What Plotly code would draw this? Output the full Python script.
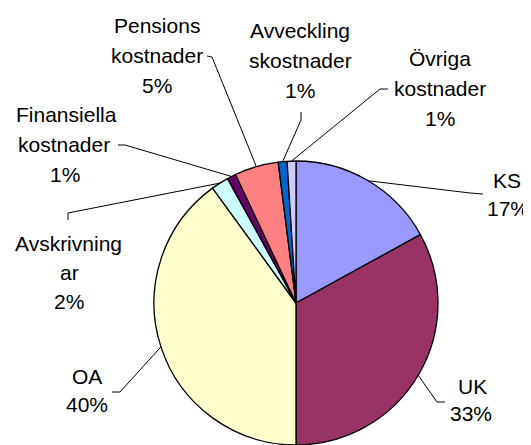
import math
import plotly.graph_objects as go

# ---- data ----
labels = ["KS", "UK", "OA", "Avskrivningar", "Finansiella kostnader",
          "Pensions kostnader", "Avvecklingskostnader", "Övriga kostnader"]
values = [17, 33, 40, 2, 1, 5, 1, 1]
display_lines = [["KS"], ["UK"], ["OA"], ["Avskrivning", "ar"],
                 ["Finansiella", "kostnader"], ["Pensions", "kostnader"],
                 ["Avveckling", "skostnader"], ["Övriga", "kostnader"]]
colors = ["#9999FF", "#993366", "#FFFFCC", "#CCFFFF", "#660066",
          "#FF8080", "#0066CC", "#CCCCFF"]

# ---- layout config (page pixels) ----
PAGE_W, PAGE_H = 531, 445
OFF = 8  # default body margin of the page
W, H = PAGE_W - OFF, PAGE_H - OFF
CX, CY, R = 296, 303, 142
# text line centres per label
text_pos = [
    [(507, 181), (508, 208)],
    [(472, 386), (471, 413)],
    [(87, 376), (87, 404)],
    [(68, 243), (69, 272), (69, 301)],
    [(66, 114), (64, 144), (65, 174)],
    [(157, 26), (157, 56), (157, 86)],
    [(300, 31), (300, 61), (300, 91)],
    [(440, 59), (440, 89), (440, 119)],
]
# leader line: [end near text, elbow]
leader = [
    [(483, 194), (470, 193)],
    [(445, 402), (437, 402)],
    [(112, 392), (120, 392)],
    [(68, 220), (68, 213)],
    [(118, 145), (125, 145)],
    [(207, 56), (212, 57)],
    [(301, 112), (301, 120)],
    [(388, 89), (380, 89)],
]

def px(x):
    return (x - OFF) / W

def py(y):
    return 1 - (y - OFF) / H

total = sum(values)
fig = go.Figure(go.Pie(
    labels=labels, values=values, sort=False, direction="clockwise",
    rotation=0, textinfo="none", hoverinfo="label+percent",
    marker=dict(colors=colors, line=dict(color="black", width=1.3)),
    domain=dict(x=[px(CX - R), px(CX + R)], y=[0, py(CY - R)]),
    showlegend=False,
))

annotations = []
shapes = []
cum = 0
for i, v in enumerate(values):
    mid = (cum + v / 2) / total
    cum += v
    th = 2 * math.pi * mid
    ex, ey = CX + R * math.sin(th), CY - R * math.cos(th)
    lines = display_lines[i] + [f"{round(v / total * 100)}%"]
    for t, (x, y) in zip(lines, text_pos[i]):
        annotations.append(dict(
            x=px(x), y=py(y), xref="paper", yref="paper", text=t,
            showarrow=False, xanchor="center", yanchor="middle",
            font=dict(family="Liberation Sans, Arial", size=21, color="black")))
    (tx, ty), (bx, by) = leader[i]
    shapes.append(dict(
        type="path", xref="paper", yref="paper",
        path=f"M {px(tx)} {py(ty)} L {px(bx)} {py(by)} L {px(ex)} {py(ey)}",
        line=dict(color="black", width=1)))

fig.update_layout(
    width=W, height=H, margin=dict(l=0, r=0, t=0, b=0),
    paper_bgcolor="white", plot_bgcolor="white",
    annotations=annotations, shapes=shapes,
)
fig.write_html("out.html")
